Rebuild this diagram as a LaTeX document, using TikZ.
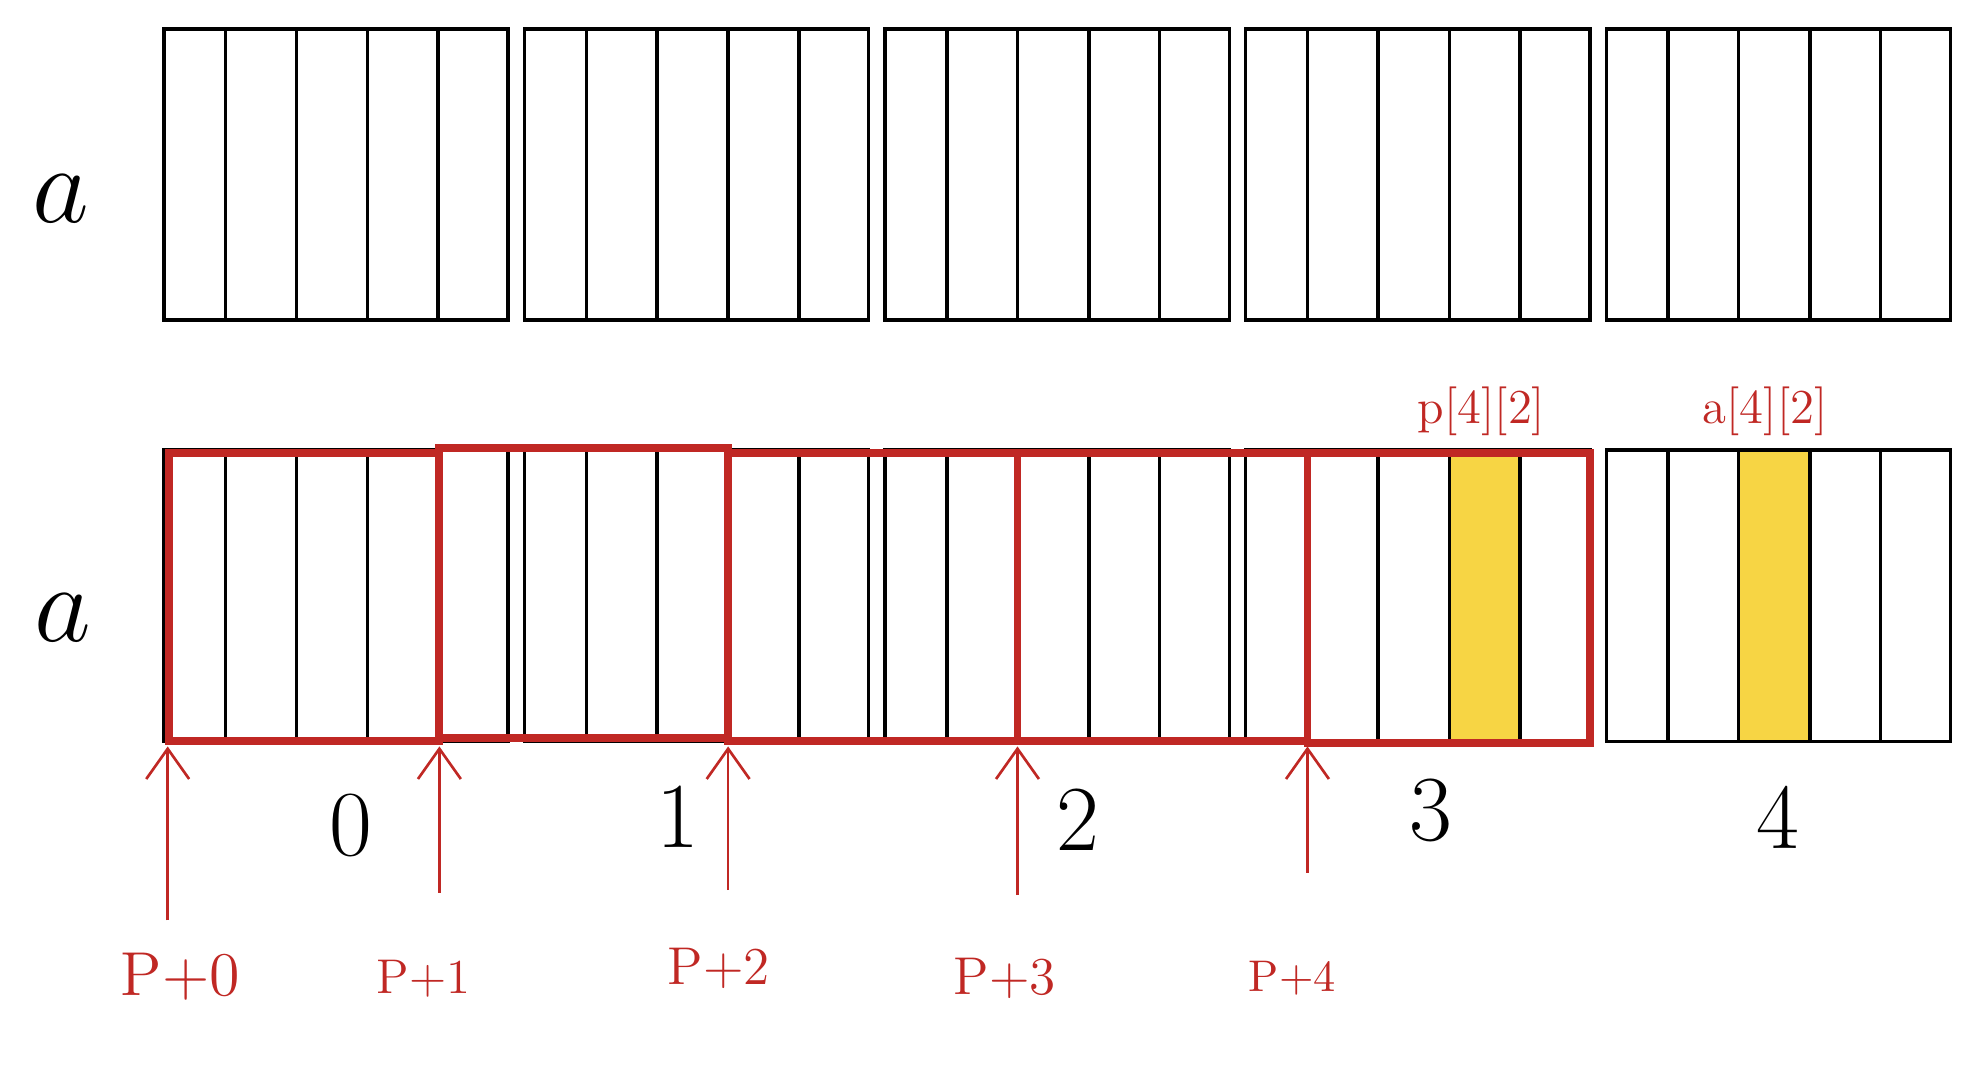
\documentclass[tikz,border=0pt]{standalone}
\usetikzlibrary{arrows.meta}

\definecolor{penred}{RGB}{192,40,36}
\definecolor{marker}{RGB}{247,213,68}

\tikzset{
  cellbox/.style={draw=black, line width=0.8pt},
  ptrbox/.style={draw=penred, line width=1.8pt},
  ptrarrow/.style={draw=penred, line width=0.6pt, -{Straight Barb[length=2.4mm,width=3.4mm]}},
  ptrlabel/.style={text=penred, font=\fontsize{14}{14}\selectfont},
  idxlabel/.style={font=\fontsize{21}{21}\selectfont},
  rowlabel/.style={font=\fontsize{24}{24}\selectfont},
}

\begin{document}
\begin{tikzpicture}[x=0.01cm,y=-0.01cm]
            \useasboundingbox (0,0) rectangle (1568,857);

            % Highlighted elements p[4][2] and a[4][2]
            \fill[marker] (1149.5,361) rectangle (1205.5,587);
            \fill[marker] (1379,357) rectangle (1435.5,588);

            % Two rows of a: five blocks of five cells
            \foreach \ya/\yb in {23/254, 357/588} {
                \foreach \k in {0,...,4} {
                    \pgfmathsetmacro{\bx}{130+286*\k}
                    \draw[cellbox] (\bx,\ya) rectangle (\bx+273,\yb);
                    \foreach \off in {49,105,161.5,217.5}
                        \draw[cellbox] (\bx+\off,\ya) -- (\bx+\off,\yb);
                }
            }

            % Row names
            \node[rowlabel] (rowa) at (48,158) {$a$};
            \node[rowlabel] (rowb) at (50,490) {$a$};

            % Red boxes: one per step of p
            \foreach \xa/\xb/\ya/\yb in {
            134/348.5/359/588,
            348.5/577.5/355/585,
            577.5/807/359/588,
            807/1037/359/588,
            1037/1261/359/589} {
                \draw[ptrbox] (\xa,\ya) rectangle (\xb,\yb);
            }

            % Arrows p+i and their labels
            \foreach \i/\x/\yt/\lx/\ly/\fs in {
            0/133/730/143/775/14,
            1/348.5/708/336/776/11,
            2/577.5/706/570/768/12,
            3/807/710/797/776/12,
            4/1037/692/1025/776/10} {
                \coordinate (tail\i) at (\x,\yt);
                \coordinate (head\i) at (\x,592);
                \draw[ptrarrow] (tail\i) -- (head\i);
                \node[ptrlabel, font=\fontsize{\fs}{\fs}\selectfont] (plab\i) at (\lx,\ly) {P+\i};
            }

            % Block indices
            \foreach \i/\x/\y in {0/278/655, 1/538/648, 2/855/650, 3/1135/643, 4/1410/648} {
                \node[idxlabel] (idx\i) at (\x,\y) {\i};
            }

            % Element names
            \node[ptrlabel, font=\fontsize{11}{11}\selectfont] (pelem) at (1175,326) {p[4][2]};
            \node[ptrlabel, font=\fontsize{11}{11}\selectfont] (aelem) at (1400,326) {a[4][2]};
\end{tikzpicture}
\end{document}
